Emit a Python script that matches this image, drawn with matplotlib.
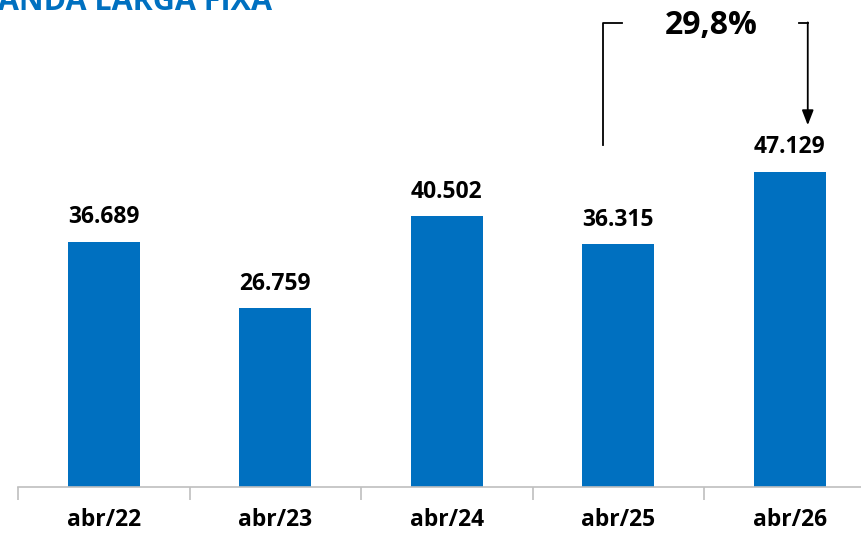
import matplotlib

matplotlib.use("Agg")
import matplotlib.pyplot as plt
import numpy as np

categories = ["abr/22", "abr/23", "abr/24", "abr/25", "abr/26"]
values = [36689, 26759, 40502, 36315, 47129]
growth_label = "29,8%"
title = "BANDA LARGA FIXA"

BLUE = "#0070C0"
W, H = 861, 533

plt.rcParams["font.family"] = ["Open Sans", "DejaVu Sans"]

fig = plt.figure(figsize=(W / 100, H / 100), dpi=100)
# axes: left edge at x=18px, baseline at y=487px, top at figure top
ax = fig.add_axes([18 / W, (H - 487) / H, (W - 18) / W, 487 / H])

x = np.arange(len(categories))
ax.bar(x, values, width=0.42, color=BLUE, zorder=2)

for xi, v in zip(x, values):
    ax.annotate(
        f"{v:,}".replace(",", "."),
        (xi, v),
        xytext=(0, 9),
        textcoords="offset points",
        ha="center",
        va="bottom",
        fontsize=16.5,
        fontweight="bold",
        color="black",
    )

for side in ["top", "right", "left"]:
    ax.spines[side].set_visible(False)
ax.spines["bottom"].set_color("#BFBFBF")
ax.spines["bottom"].set_linewidth(1.2)
ax.set_yticks([])

ax.set_xticks(x)
ax.set_xticklabels(categories, fontsize=16.5, fontweight="bold")
ax.tick_params(axis="x", which="major", length=0, pad=15)
ax.set_xticks(np.arange(-0.5, len(categories), 1.0), minor=True)
ax.tick_params(axis="x", which="minor", length=9.5, color="#BFBFBF", width=1.2)

# limits after ticks, so the tick setters don't widen the view
ax.set_xlim(-0.5, -0.5 + (W - 18) / 171.5)
ax.set_ylim(0, 487 * 149.6)

# growth bracket from abr/25 to abr/26
y_top = 69400
left_x = x[3] - 0.09
right_x = x[4] + 0.105
ax.plot([left_x, left_x, left_x + 0.11], [values[3] + 14800, y_top, y_top],
        color="black", lw=1.3, clip_on=False)
ax.plot([right_x - 0.05, right_x], [y_top, y_top], color="black", lw=1.3)
ax.annotate(
    "",
    xy=(right_x, values[4] + 7000),
    xytext=(right_x, y_top + 100),
    arrowprops=dict(arrowstyle="-|>,head_length=0.9,head_width=0.35",
                    color="black", lw=1.3, shrinkA=0, shrinkB=0),
)
ax.text((left_x + right_x) / 2 + 0.035, y_top - 300, growth_label,
        ha="center", va="center",
        fontsize=23, fontweight="bold", color="black")

fig.text(-22 / W, 1 - 10 / H, title, ha="left", va="baseline",
         fontsize=22, fontweight="bold", color=BLUE)

fig.savefig("out.png", dpi=100)
plt.close(fig)
